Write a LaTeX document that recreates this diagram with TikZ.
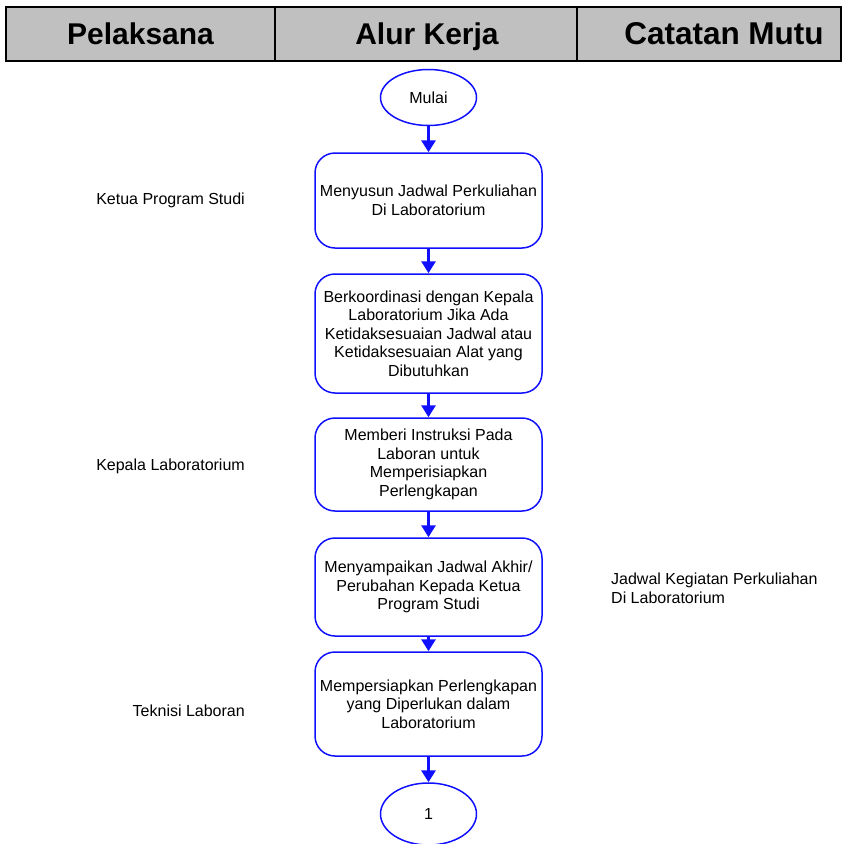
\documentclass[tikz,border=0pt]{standalone}
\usepackage{fontspec}
\setmainfont{Liberation Sans}
\usetikzlibrary{shapes.geometric,arrows.meta}
\definecolor{hdrgray}{HTML}{C0C0C0}
\definecolor{flowblue}{HTML}{1010FF}
\tikzset{
  hdrtext/.style={font=\fontsize{30}{34}\selectfont\bfseries, text=black, anchor=base, inner sep=0pt},
  stepbox/.style={draw=flowblue, line width=1.5pt, rounded corners=20pt, minimum width=227pt,
    align=center, inner sep=0pt, font=\fontsize{16}{18.6}\selectfont},
  term/.style={draw=flowblue, line width=1.5pt, ellipse, minimum width=96pt, inner sep=0pt,
    font=\fontsize{16}{18.6}\selectfont},
  arr/.style={draw=flowblue, line width=3.2pt, -{Triangle[width=14pt,length=12pt]}},
  sidetext/.style={font=\fontsize{16}{18.6}\selectfont, inner sep=0pt}
}
\begin{document}
\begin{tikzpicture}[x=1pt,y=-1pt]
\useasboundingbox (0,0) rectangle (843,844);
% header
\fill[hdrgray] (6,7) rectangle (841,61);
\draw[line width=2.5pt] (6,7) rectangle (841,61);
\draw[line width=2.5pt] (275,7) -- (275,61);
\draw[line width=2.5pt] (577,7) -- (577,61);
\node[hdrtext] (h1) at (140.5,44) {Pelaksana};
\node[hdrtext] (h2) at (427,44) {Alur Kerja};
\node[hdrtext, font=\fontsize{31.5}{34}\selectfont\bfseries] (h3) at (724,44) {Catatan Mutu};
% flow
\node[term, minimum height=56pt] (m) at (428.5,97.5) {Mulai};
\node[stepbox, minimum height=95pt] (b1) at (428.5,200.5) {Menyusun Jadwal Perkuliahan\\Di Laboratorium};
\node[stepbox, minimum height=119pt] (b2) at (428.5,333.5) {Berkoordinasi dengan Kepala\\Laboratorium Jika Ada\\Ketidaksesuaian Jadwal atau\\Ketidaksesuaian Alat yang\\Dibutuhkan};
\node[stepbox, minimum height=93pt] (b3) at (428.5,464.5) {Memberi Instruksi Pada\\Laboran untuk\\Memperisiapkan\\Perlengkapan};
\node[stepbox, minimum height=98pt] (b4) at (428.5,587) {Menyampaikan Jadwal Akhir/\\Perubahan Kepada Ketua\\Program Studi};
\node[stepbox, minimum height=104pt] (b5) at (428.5,704) {Mempersiapkan Perlengkapan\\yang Diperlukan dalam\\Laboratorium};
\node[term, minimum height=62pt] (e1) at (428.5,814) {1};
\draw[arr] (m.south) -- (b1.north);
\draw[arr] (b1.south) -- (b2.north);
\draw[arr] (b2.south) -- (b3.north);
\draw[arr] (b3.south) -- (b4.north);
\draw[arr] (b4.south) -- (b5.north);
\draw[arr] (b5.south) -- (e1.north);
% side labels
\node[sidetext, anchor=east] (p1) at (245,200) {Ketua Program Studi};
\node[sidetext, anchor=east] (p2) at (245,466) {Kepala Laboratorium};
\node[sidetext, anchor=east] (p3) at (245,711) {Teknisi Laboran};
\node[sidetext, anchor=west, align=left] (c1) at (611,588) {Jadwal Kegiatan Perkuliahan\\Di Laboratorium};
\end{tikzpicture}
\end{document}
